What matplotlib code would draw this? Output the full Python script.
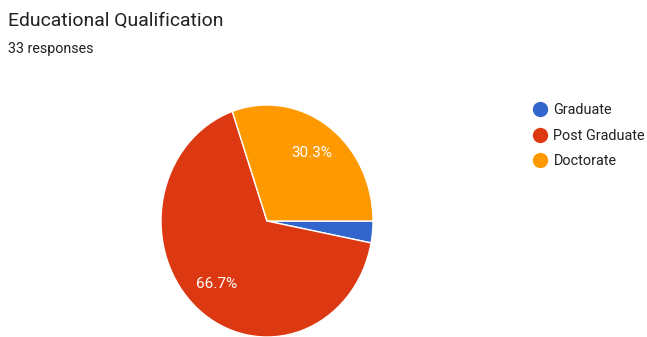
import matplotlib
matplotlib.use("Agg")
import matplotlib.pyplot as plt
from matplotlib.lines import Line2D

# data
labels = ["Graduate", "Post Graduate", "Doctorate"]
counts = [1, 22, 10]
colors = ["#3366cc", "#dc3912", "#ff9900"]
title = "Educational Qualification"
subtitle = "33 responses"

plt.rcParams['font.family'] = ['Roboto', 'DejaVu Sans']

W, H = 647, 337
fig = plt.figure(figsize=(W / 100, H / 100), dpi=100)
fig.patch.set_facecolor("white")

# pie axes (the source image is slightly stretched vertically)
cx, cy, rx, ry = 267, 221, 106, 116
ax = fig.add_axes([(cx - rx) / W, (H - cy - ry) / H, 2 * rx / W, 2 * ry / H])

def pct_label(p):
    return "%.1f%%" % p if p > 5 else ""

wedges, texts, autotexts = ax.pie(
    counts, colors=colors, startangle=0, counterclock=False,
    autopct=pct_label, pctdistance=0.72,
    wedgeprops=dict(edgecolor="white", linewidth=1),
    textprops=dict(color="white", fontsize=11))
ax.set_aspect("auto")
ax.set_xlim(-1, 1)
ax.set_ylim(-1, 1)
ax.axis("off")

t1 = fig.text(8 / W, 1 - 21 / H, title, fontsize=12, color="#202124", va="center")
t2 = fig.text(8 / W, 1 - 49 / H, subtitle, fontsize=10, color="#202124", va="center")

# fit text widths to the reference (pixels)
renderer = fig.canvas.get_renderer()
for t, target in [(t1, 214), (t2, 86)]:
    w = t.get_window_extent(renderer).width
    t.set_fontsize(t.get_fontsize() * target / w)

handles = [Line2D([0], [0], marker="o", linestyle="", markersize=10,
                  markerfacecolor=c, markeredgecolor=c) for c in colors]
fig.legend(handles, labels, loc="upper left", bbox_to_anchor=(531 / W, 1 - 103 / H),
           frameon=False, fontsize=10.4, handletextpad=0.35, labelspacing=0.81,
           handlelength=1.2, borderaxespad=0, borderpad=0, labelcolor="#202124")

fig.savefig("out.png", dpi=100, facecolor="white")
